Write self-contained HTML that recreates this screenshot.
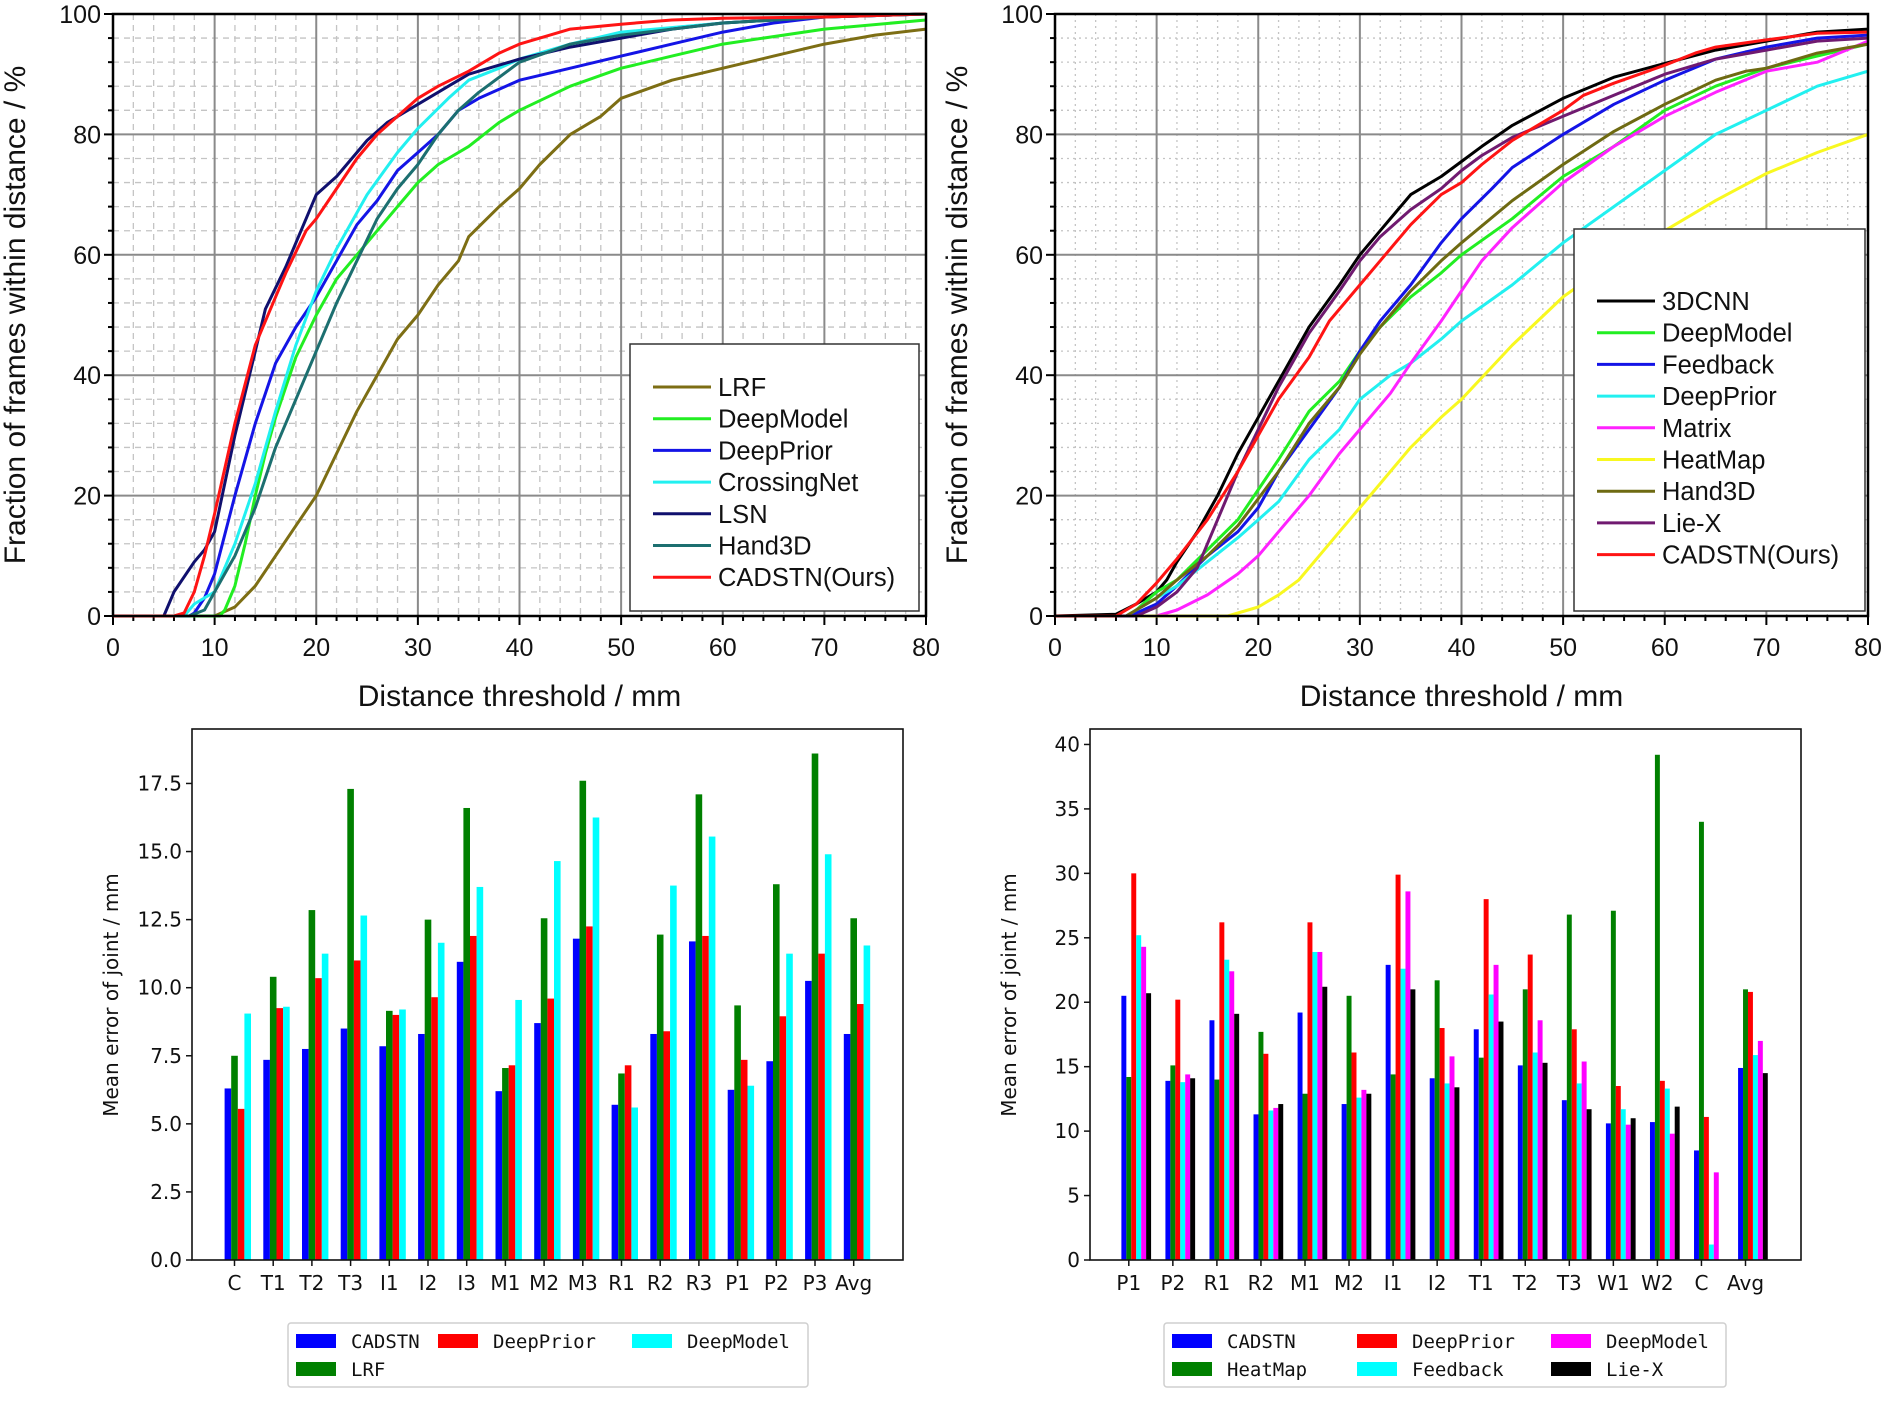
<!DOCTYPE html>
<html><head><meta charset="utf-8">
<style>
html,body{margin:0;padding:0;background:#fff;}
svg{display:block;}
</style></head>
<body>
<svg id="chart" width="1890" height="1417" viewBox="0 0 1890 1417" xmlns="http://www.w3.org/2000/svg"></svg>
<script>
// ---------- data: top-left PCK curves ([threshold mm, fraction %]) ----------
const leftXTicks = [0,10,20,30,40,50,60,70,80];
const leftYTicks = [0,20,40,60,80,100];
const leftNames = ["LRF","DeepModel","DeepPrior","CrossingNet","LSN","Hand3D","CADSTN(Ours)"];
const leftLRF = [[0,0],[10,0],[12,1.5],[14,5],[16,10],[18,15],[20,20],[22,27],[24,34],[26,40],[28,46],[30,50],[32,55],[34,59],[35,63],[38,68],[40,71],[42,75],[45,80],[48,83],[50,86],[55,89],[60,91],[65,93],[70,95],[75,96.5],[80,97.5]];
const leftDeepModel = [[0,0],[10.5,0],[11,1],[12,5],[13,12],[14,20],[15,27],[16,33],[18,43],[20,50],[22,56],[24,60],[26,64],[28,68],[30,72],[32,75],[35,78],[38,82],[40,84],[45,88],[50,91],[55,93],[60,95],[70,97.5],[80,99]];
const leftDeepPrior = [[0,0],[7.5,0],[8,0.5],[9,3],[10,7],[12,20],[14,32],[16,42],[18,48],[20,53],[22,59],[24,65],[26,69],[28,74],[30,77],[32,80],[34,84],[36,86],[40,89],[45,91],[50,93],[55,95],[60,97],[65,98.5],[70,99.5],[80,100]];
const leftCrossingNet = [[0,0],[7,0],[8,2],[9,3],[10,4],[12,12],[14,22],[16,34],[18,45],[20,54],[22,61],[25,70],[28,77],[30,81],[33,86],[35,89],[38,91],[40,92.5],[45,95],[50,97],[60,98.5],[70,99.5],[80,100]];
const leftLSN = [[0,0],[5,0],[6,4],[8,9],[9,11],[10,14],[12,30],[14,44],[15,51],[17,58],[18,62],[20,70],[22,73],[24,77],[25,79],[27,82],[30,85],[33,88],[35,90],[40,92.5],[45,94.5],[50,96],[55,97.5],[60,98.5],[70,99.5],[80,100]];
const leftHand3D = [[0,0],[7.5,0],[9,1],[10,4],[12,10],[14,18],[16,28],[18,36],[20,44],[22,52],[24,59],[26,66],[28,71],[30,75],[32,80],[34,84],[36,87],[40,92],[45,95],[50,96.5],[55,97.5],[60,98.5],[70,99.5],[80,100]];
const leftCADSTN = [[0,0],[6,0],[7,0.5],[8,4],[9,10],[10,17],[12,32],[14,45],[16,53],[17,57],[19,64],[20,66],[22,71],[24,76],[26,80],[28,83],[30,86],[32,88],[35,90.5],[38,93.5],[40,95],[43,96.5],[45,97.5],[50,98.3],[55,99],[60,99.3],[70,99.5],[80,100]];

// ---------- data: top-right PCK curves ----------
const rightNames = ["3DCNN","DeepModel","Feedback","DeepPrior","Matrix","HeatMap","Hand3D","Lie-X","CADSTN(Ours)"];
const right3DCNN = [[0,0],[6,0.3],[8,2],[10,4],[11,6],[12,9],[14,14],[16,20],[18,27],[20,33],[22,39],[25,48],[28,55],[30,60],[32,64],[35,70],[38,73],[40,75.5],[42,78],[45,81.5],[50,86],[55,89.5],[60,91.8],[65,94],[70,95.5],[75,97],[80,97.5]];
const rightDeepModel = [[0,0],[7,0],[8,1],[10,4],[12,6],[15,11],[18,16],[20,21],[22,26],[25,34],[28,39],[30,44],[32,48],[35,53],[38,57],[40,60],[45,66],[50,73],[55,78],[60,84],[65,88],[70,91],[75,93],[80,95]];
const rightFeedback = [[0,0],[7,0],[8,0.5],[10,2],[12,5],[15,10],[18,14],[20,18],[22,24],[25,31],[28,38],[30,44],[32,49],[35,55],[38,62],[40,66],[43,71],[45,74.5],[50,80],[55,85],[60,89],[65,92.5],[70,94.5],[75,96],[80,96.5]];
const rightDeepPrior = [[0,0],[7,0],[10,3],[12,5],[15,9],[18,13],[20,16],[22,19],[25,26],[28,31],[30,36],[33,40],[35,42],[38,46],[40,49],[45,55],[50,62],[55,68],[60,74],[65,80],[70,84],[75,88],[80,90.5]];
const rightMatrix = [[0,0],[10,0],[12,1],[15,3.5],[18,7],[20,10],[22,14],[25,20],[28,27],[30,31],[33,37],[35,42],[38,49],[40,54],[42,59],[45,64.5],[50,72],[55,78],[60,83],[65,87],[70,90.5],[75,92],[80,95.5]];
const rightHeatMap = [[0,0],[17,0],[18,0.5],[20,1.5],[22,3.5],[24,6],[26,10],[28,14],[30,18],[32,22],[35,28],[38,33],[40,36],[45,45],[50,53],[55,59],[60,64],[63,67],[65,69],[70,73.5],[75,77],[80,80]];
const rightHand3D = [[0,0],[7,0],[10,3],[12,6],[15,10],[18,15],[20,19.5],[22,24],[25,32],[28,38],[30,43.5],[32,48],[35,54],[38,59],[40,62],[45,69],[50,75],[55,80.5],[60,85],[65,89],[68,90.5],[70,91],[75,93.5],[80,95]];
const rightLieX = [[0,0],[8,0],[10,1.5],[12,4],[14,8],[16,16],[18,24],[20,31],[22,38],[25,47],[28,54],[30,59],[32,63],[35,67.5],[38,71],[40,74],[42,76.5],[45,79.5],[50,83],[55,86.5],[60,90],[65,92.5],[70,94],[75,95.5],[80,96]];
const rightCADSTN = [[0,0],[6,0],[8,2],[10,5.5],[12,9.5],[15,16],[18,24],[20,30],[22,36],[25,43],[27,49],[30,55],[32,59],[35,65],[38,70],[40,72],[42,75],[45,79],[50,84],[52,86.5],[55,88.5],[60,91.5],[63,93.5],[65,94.5],[70,95.7],[75,96.8],[80,97]];

// ---------- data: bottom-left bar chart ----------
const blCategories = ["C","T1","T2","T3","I1","I2","I3","M1","M2","M3","R1","R2","R3","P1","P2","P3","Avg"];
const blYTicks = [0,2.5,5,7.5,10,12.5,15,17.5];
const blYTickLabels = ["0.0","2.5","5.0","7.5","10.0","12.5","15.0","17.5"];
const blSeriesNames = ["CADSTN","LRF","DeepPrior","DeepModel"];
const blCADSTN = [6.3,7.35,7.75,8.5,7.85,8.3,10.95,6.2,8.7,11.8,5.7,8.3,11.7,6.25,7.3,10.25,8.3];
const blLRF = [7.5,10.4,12.85,17.3,9.15,12.5,16.6,7.05,12.55,17.6,6.85,11.95,17.1,9.35,13.8,18.6,12.55];
const blDeepPrior = [5.55,9.25,10.35,11.0,9.0,9.65,11.9,7.15,9.6,12.25,7.15,8.4,11.9,7.35,8.95,11.25,9.4];
const blDeepModel = [9.05,9.3,11.25,12.65,9.2,11.65,13.7,9.55,14.65,16.25,5.6,13.75,15.55,6.4,11.25,14.9,11.55];

// ---------- data: bottom-right bar chart ----------
const brCategories = ["P1","P2","R1","R2","M1","M2","I1","I2","T1","T2","T3","W1","W2","C","Avg"];
const brYTicks = [0,5,10,15,20,25,30,35,40];
const brSeriesNames = ["CADSTN","HeatMap","DeepPrior","Feedback","DeepModel","Lie-X"];
const brCADSTN = [20.5,13.9,18.6,11.3,19.2,12.1,22.9,14.1,17.9,15.1,12.4,10.6,10.7,8.5,14.9];
const brHeatMap = [14.2,15.1,14.0,17.7,12.9,20.5,14.4,21.7,15.7,21.0,26.8,27.1,39.2,34.0,21.0];
const brDeepPrior = [30.0,20.2,26.2,16.0,26.2,16.1,29.9,18.0,28.0,23.7,17.9,13.5,13.9,11.1,20.8];
const brFeedback = [25.2,13.8,23.3,11.6,23.9,12.6,22.6,13.7,20.6,16.1,13.7,11.7,13.3,1.2,15.9];
const brDeepModel = [24.3,14.4,22.4,11.8,23.9,13.2,28.6,15.8,22.9,18.6,15.4,10.5,9.8,6.8,17.0];
const brLieX = [20.7,14.1,19.1,12.1,21.2,12.9,21.0,13.4,18.5,15.3,11.7,11.0,11.9,0,14.5];

const NS = "http://www.w3.org/2000/svg";
const svg = document.getElementById('chart');
function mk(tag, attrs, parent){
  const e = document.createElementNS(NS, tag);
  for (const k in attrs) e.setAttribute(k, attrs[k]);
  (parent || svg).appendChild(e);
  return e;
}
function txt(s, attrs, parent){
  const e = mk('text', attrs, parent);
  e.textContent = s;
  return e;
}
const SANS = '"Liberation Sans", Arial, sans-serif';
const DJ = '"DejaVu Sans", sans-serif';
const MONO = '"DejaVu Sans Mono", "Liberation Mono", monospace';

// ================= line charts =================
function lineChart(name, box, series, names, colors, xTicks, yTicks, minorStyle, legendBox, legendStart){
  const g = mk('g', {});
  
  
  const sx = v => box.L + v / 80 * (box.R - box.L);
  const sy = v => box.B - v / 100 * (box.B - box.T);
  for (let v = 2; v < 80; v += 2) {
    if (v % 10 === 0) continue;
    const ln = mk('line', {x1:sx(v), x2:sx(v), y1:box.T, y2:box.B, stroke:'#c4c4c4', 'stroke-width':1.3, 'stroke-dasharray':minorStyle}, g);
    
    
  }
  for (let v = 4; v < 100; v += 4) {
    if (v % 20 === 0) continue;
    const ln = mk('line', {x1:box.L, x2:box.R, y1:sy(v), y2:sy(v), stroke:'#c4c4c4', 'stroke-width':1.3, 'stroke-dasharray':minorStyle}, g);
    
    
    const tk = mk('line', {x1:box.L - 5, x2:box.L, y1:sy(v), y2:sy(v), stroke:'#000', 'stroke-width':2}, g);
    
    
  }
  for (let v = 2; v < 80; v += 2) {
    if (v % 10 === 0) continue;
    const tk = mk('line', {x1:sx(v), x2:sx(v), y1:box.B, y2:box.B + 5, stroke:'#000', 'stroke-width':2}, g);
    
    
  }
  xTicks.forEach(v => {
    const ln = mk('line', {x1:sx(v), x2:sx(v), y1:box.T, y2:box.B, stroke:'#8a8a8a', 'stroke-width':2}, g);
    
    
    const tk = mk('line', {x1:sx(v), x2:sx(v), y1:box.B, y2:box.B + 9, stroke:'#000', 'stroke-width':2}, g);
    
    
    const t = txt(String(v), {x:sx(v), y:box.B + 40, 'text-anchor':'middle', 'font-family':SANS, 'font-size':25, fill:'#111'}, g);
    
    
  });
  yTicks.forEach(v => {
    const ln = mk('line', {x1:box.L, x2:box.R, y1:sy(v), y2:sy(v), stroke:'#8a8a8a', 'stroke-width':2}, g);
    
    
    const tk = mk('line', {x1:box.L - 9, x2:box.L, y1:sy(v), y2:sy(v), stroke:'#000', 'stroke-width':2}, g);
    
    
    const t = txt(String(v), {x:box.L - 12, y:sy(v) + 9, 'text-anchor':'end', 'font-family':SANS, 'font-size':25, fill:'#111'}, g);
    
    
  });
  series.forEach((pts, i) => {
    const d = pts.map((p, j) => (j ? 'L' : 'M') + sx(p[0]).toFixed(1) + ',' + sy(p[1]).toFixed(1)).join(' ');
    const p = mk('path', {d:d, fill:'none', stroke:colors[i], 'stroke-width':3, 'stroke-linejoin':'round'}, g);
    
    
  });
  const fr = mk('rect', {x:box.L, y:box.T, width:box.R - box.L, height:box.B - box.T, fill:'none', stroke:'#000', 'stroke-width':2.5}, g);
  
  
  const xt = txt('Distance threshold / mm', {x:(box.L + box.R) / 2, y:706, 'text-anchor':'middle', 'font-family':SANS, 'font-size':30, fill:'#111'}, g);
  
  
  const ytx = box.L - 88, yty = (box.T + box.B) / 2;
  const yt = txt('Fraction of frames within distance / %', {x:ytx, y:yty, 'text-anchor':'middle', 'font-family':SANS, 'font-size':30, fill:'#111', transform:'rotate(-90 ' + ytx + ' ' + yty + ')'}, g);
  
  
  const lg = mk('g', {}, g);
  
  
  const lr = mk('rect', {x:legendBox.x, y:legendBox.y, width:legendBox.w, height:legendBox.h, fill:'#fff', stroke:'#333', 'stroke-width':1.5}, lg);
  
  
  names.forEach((n, i) => {
    const y = legendStart + i * 31.7;
    const ln = mk('line', {x1:legendBox.x + 23, x2:legendBox.x + 81, y1:y, y2:y, stroke:colors[i], 'stroke-width':3}, lg);
    
    
    const t = txt(n, {x:legendBox.x + 88, y:y + 9, 'font-family':SANS, 'font-size':25.5, fill:'#111'}, lg);
    
    
  });
}

lineChart('pck-chart-left', {L:113, R:926, T:14, B:616},
  [leftLRF, leftDeepModel, leftDeepPrior, leftCrossingNet, leftLSN, leftHand3D, leftCADSTN],
  leftNames,
  ['#7d6e14', '#22ee22', '#1414e6', '#22f0f0', '#10106e', '#1c6f70', '#ff1414'],
  leftXTicks, leftYTicks, '6,5',
  {x:630, y:344, w:289, h:267}, 387);

lineChart('pck-chart-right', {L:1055, R:1868, T:14, B:616},
  [right3DCNN, rightDeepModel, rightFeedback, rightDeepPrior, rightMatrix, rightHeatMap, rightHand3D, rightLieX, rightCADSTN],
  rightNames,
  ['#000000', '#22ee22', '#1414e6', '#22f0f0', '#ff22ff', '#f8f820', '#6e6a12', '#701a70', '#ff1414'],
  leftXTicks, leftYTicks, '2,4',
  {x:1574, y:229, w:291, h:382}, 301);

// ================= bar charts =================
function barChart(name, box, ymax, cats, series, names, colors, yTicks, yLabels, c0, step, w, legend){
  const g = mk('g', {});
  
  
  const sy = v => box.B - v / ymax * (box.B - box.T);
  const cx = i => c0 + i * step;
  series.forEach((vals, s) => {
    vals.forEach((v, i) => {
      if (v <= 0) return;
      const x = cx(i) + (s - 1) * w - w / 2;
      const r = mk('rect', {x:x.toFixed(2), y:sy(v).toFixed(2), width:w, height:(box.B - sy(v)).toFixed(2), fill:colors[s]}, g);
      
      
    });
  });
  const fr = mk('rect', {x:box.L, y:box.T, width:box.R - box.L, height:box.B - box.T, fill:'none', stroke:'#111', 'stroke-width':1.6}, g);
  
  
  yTicks.forEach((v, i) => {
    const tk = mk('line', {x1:box.L - 6, x2:box.L, y1:sy(v), y2:sy(v), stroke:'#111', 'stroke-width':1.5}, g);
    
    
    const t = txt(yLabels[i], {x:box.L - 10, y:sy(v) + 7, 'text-anchor':'end', 'font-family':DJ, 'font-size':20, fill:'#111'}, g);
    
    
  });
  cats.forEach((c, i) => {
    const tk = mk('line', {x1:cx(i), x2:cx(i), y1:box.B, y2:box.B + 6, stroke:'#111', 'stroke-width':1.5}, g);
    
    
    const t = txt(c, {x:cx(i), y:box.B + 30, 'text-anchor':'middle', 'font-family':DJ, 'font-size':20, fill:'#111'}, g);
    
    
  });
  const ytx = box.L - 74, yty = 995;
  const yt = txt('Mean error of joint / mm', {x:ytx, y:yty, 'text-anchor':'middle', 'font-family':DJ, 'font-size':20, fill:'#111', transform:'rotate(-90 ' + ytx + ' ' + yty + ')'}, g);
  
  
  const lg = mk('g', {}, g);
  
  
  const lr = mk('rect', {x:legend.x, y:1323, width:legend.w, height:64, rx:3, fill:'#fff', stroke:'#cfcfcf', 'stroke-width':1.5}, lg);
  
  
  names.forEach((n, s) => {
    const row = legend.pos[s][1], c = legend.pos[s][0];
    const px = legend.colX[c], py = row ? 1369 : 1341;
    const sw = mk('rect', {x:px, y:py - 7, width:40, height:14, fill:colors[s]}, lg);
    
    
    const t = txt(n, {x:px + 55, y:py + 7, 'font-family':MONO, 'font-size':19, fill:'#111'}, lg);
    
    
  });
}

barChart('bar-chart-left', {L:192, R:903, T:729, B:1260}, 19.5, blCategories,
  [blCADSTN, blLRF, blDeepPrior, blDeepModel], blSeriesNames,
  ['#0000ff', '#008000', '#ff0000', '#00ffff'],
  blYTicks, blYTickLabels, 234.5, 38.7, 6.6,
  {x:288, w:520, colX:[296, 438, 632], pos:[[0,0],[0,1],[1,0],[2,0]]});

barChart('bar-chart-right', {L:1090, R:1801, T:729, B:1260}, 41.2, brCategories,
  [brCADSTN, brHeatMap, brDeepPrior, brFeedback, brDeepModel, brLieX], brSeriesNames,
  ['#0000ff', '#008000', '#ff0000', '#00ffff', '#ff00ff', '#000000'],
  brYTicks, brYTicks.map(String), 1128.8, 44.05, 4.95,
  {x:1164, w:562, colX:[1172, 1357, 1551], pos:[[0,0],[0,1],[1,0],[1,1],[2,0],[2,1]]});
</script>
</body></html>
